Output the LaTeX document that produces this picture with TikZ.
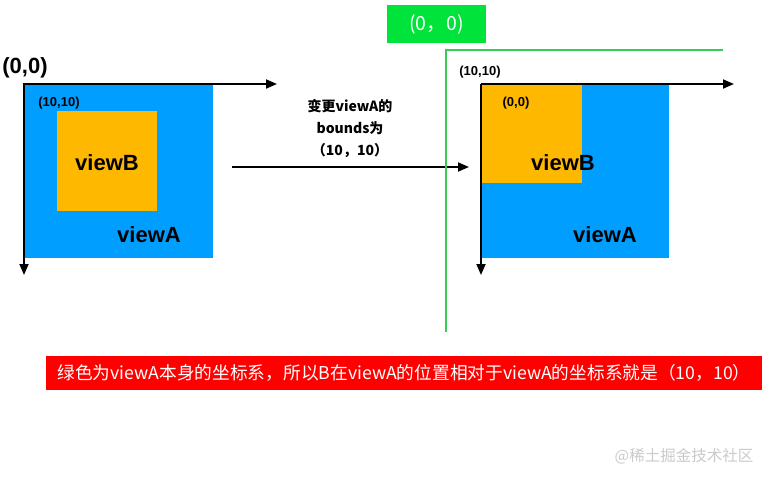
\documentclass[tikz,border=0pt]{standalone}
\usepackage{fontspec}
\setmainfont{Liberation Sans}
\newfontfamily\cjk{Noto Sans CJK SC}
\usetikzlibrary{arrows.meta,positioning}
\definecolor{viewblue}{HTML}{009EFF}
\definecolor{vieworange}{HTML}{FFB800}
\definecolor{framegreen}{HTML}{33CC55}
\definecolor{taggreen}{HTML}{00E33A}
\definecolor{notered}{HTML}{FF0000}
\definecolor{markgray}{HTML}{CACACA}

\begin{document}
\begin{tikzpicture}[x=1pt,y=-1pt,
    panel/.style={inner sep=0pt,anchor=north west},
    axis/.style={-{Triangle[length=11pt,width=9pt]},line width=1.8pt},
    bigtxt/.style={font=\bfseries\fontsize{22}{25}\selectfont},
    smalltxt/.style={font=\bfseries\fontsize{13}{15}\selectfont},
    frame/.style={draw=framegreen,line width=1.8pt}
  ]
  \useasboundingbox (0,0) rectangle (771,482);

  % before: viewA at its own origin
  \node[panel,fill=viewblue,minimum width=188pt,minimum height=174pt] (blueL) at (25,84) {};
  \node[panel,fill=vieworange,minimum width=100pt,minimum height=100pt] (orangeL) at (57,111) {};
  \node[bigtxt] (originL) at (25,68) {(0,0)};
  \node[smalltxt] (offsetL) at (59,103) {(10,10)};
  \node[bigtxt] (nameBL) at (107,163) {viewB};
  \node[bigtxt] (nameAL) at (149,235) {viewA};
  \coordinate (oL) at (23,84);
  \coordinate (xL) at (277,84);
  \coordinate (yL) at (24,275);
  \draw[axis] (oL) -- (xL);
  \draw[axis] (24,84) -- (yL);

  % change of bounds
  \coordinate (gapS) at (232,167);
  \coordinate (gapE) at (469,167);
  \draw[axis] (gapS) -- (gapE);
  \node[align=center,font=\cjk\bfseries\fontsize{14}{22}\selectfont] (note) at (350,129)
    {变更viewA的\\bounds为\\（10，10）};

  % after: bounds (10,10)
  \node[panel,fill=viewblue,minimum width=187pt,minimum height=174pt] (blueR) at (482,84) {};
  \node[panel,fill=vieworange,minimum width=100pt,minimum height=99pt] (orangeR) at (482,84) {};
  \node[smalltxt] (offsetR) at (480,72) {(10,10)};
  \node[smalltxt] (originR) at (516,103) {(0,0)};
  \node[bigtxt] (nameBR) at (563,163) {viewB};
  \node[bigtxt] (nameAR) at (605,235) {viewA};
  \coordinate (oR) at (481,84);
  \coordinate (xR) at (734,84);
  \coordinate (yR) at (481,275);
  \draw[axis] (oR) -- (xR);
  \draw[axis] (oR) -- (yR);

  % green frame of viewA
  \node[fill=taggreen,text=white,minimum width=99pt,minimum height=38pt,inner sep=0pt,
    font=\cjk\fontsize{19.5}{22}\selectfont] (tag) at (436.5,24) {(0，0)};
  \coordinate (gCorner) at (446,50);
  \coordinate (gRight) at (723,50);
  \coordinate (gDown) at (446,332);
  \draw[frame] (gRight) -- (gCorner) -- (gDown);

  \node[fill=notered,text=white,minimum width=716pt,minimum height=34pt,inner sep=0pt,
    font=\cjk\fontsize{17.7}{20}\selectfont] (banner) at (404,373)
    {绿色为viewA本身的坐标系，所以B在viewA的位置相对于viewA的坐标系就是（10，10）};

  \node[text=markgray,font=\cjk\fontsize{15.5}{18}\selectfont] (mark) at (684,456) {@稀土掘金技术社区};
\end{tikzpicture}
\end{document}
